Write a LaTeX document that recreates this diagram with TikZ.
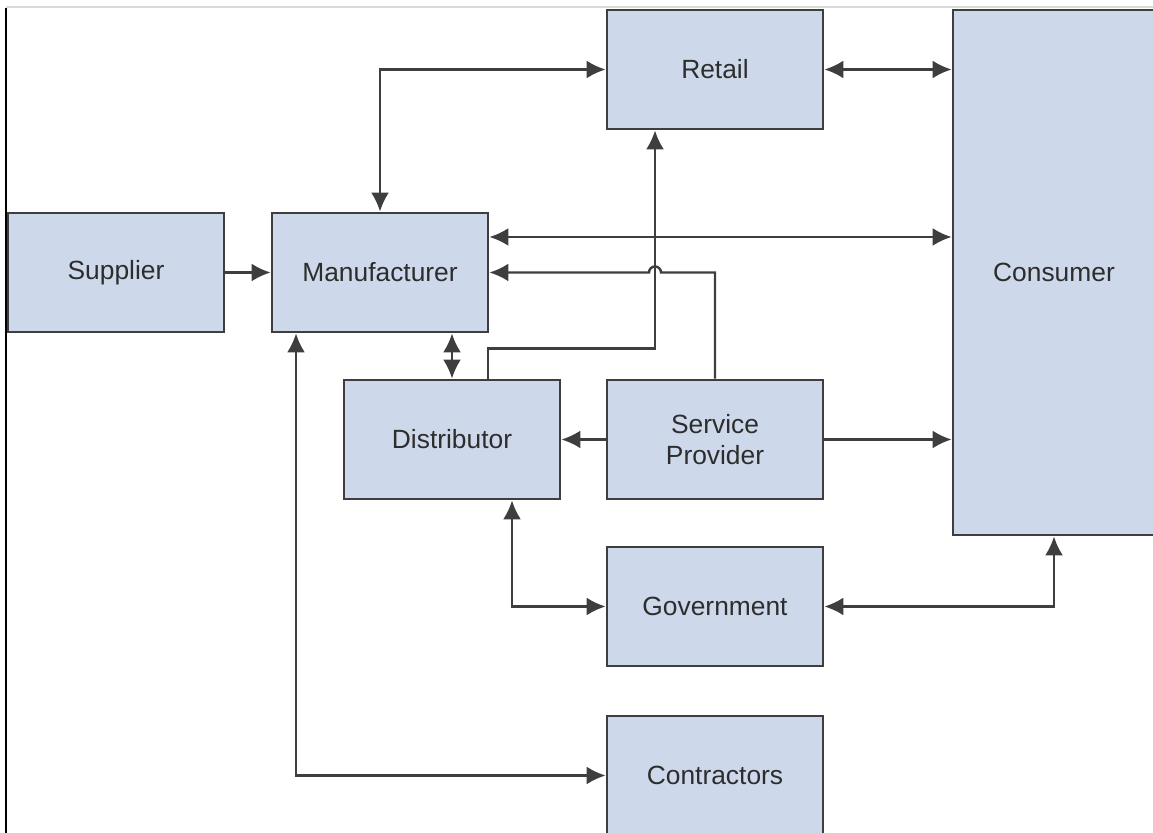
\documentclass[tikz,border=0pt]{standalone}
\usepackage{fontspec}
\setmainfont{Liberation Sans}
\usepackage{tikz}
\usetikzlibrary{calc,arrows.meta}
\definecolor{boxfill}{RGB}{205,217,235}
\definecolor{linegray}{RGB}{62,62,62}
\definecolor{textgray}{RGB}{45,45,45}

\begin{document}
\begin{tikzpicture}[
    box/.style={draw=linegray, line width=1.6pt, fill=boxfill, minimum width=4.32cm, minimum height=2.38cm,
        inner sep=0pt, text=textgray, align=center, font=\fontsize{15}{17.6}\selectfont},
    link/.style={draw=linegray, line width=1.4pt, -{Latex[length=3.8mm,width=3.6mm]}},
    twoway/.style={link, {Latex[length=3.8mm,width=3.6mm]}-{Latex[length=3.8mm,width=3.6mm]}}
]
    \useasboundingbox (0,0) rectangle (23.06,16.66);
    \draw[gray!30, line width=1.1pt] (0.12,16.52) -- (23.06,16.52);
    \draw[black, line width=0.6pt] (0.12,16.5) -- (0.12,0);

    \node[box] (Supplier) at (2.32,11.21) {Supplier};
    \node[box] (Manufacturer) at (7.60,11.21) {Manufacturer};
    \node[box] (Retail) at (14.30,15.27) {Retail};
    \node[box] (Distributor) at (9.04,7.87) {Distributor};
    \node[box] (ServiceProvider) at (14.30,7.87) {Service\\Provider};
    \node[box] (Government) at (14.30,4.53) {Government};
    \node[box] (Contractors) at (14.30,1.15) {Contractors};
    \node[box, minimum width=4.04cm, minimum height=10.5cm] (Consumer) at (21.08,11.21) {Consumer};

    \coordinate (ManHigh) at ($(Manufacturer.east)+(0,0.71)$);
    \coordinate (ManLow) at ($(Manufacturer.south)+(-1.68,0)$);
    \coordinate (DistOut) at ($(Distributor.north)+(0.72,0)$);
    \coordinate (DistLow) at ($(Distributor.south)+(1.2,0)$);
    \coordinate (RetIn) at ($(Retail.south)+(-1.2,0)$);
    \coordinate (HopR) at ($(RetIn |- Manufacturer.east)+(0.12,0)$);

    \draw[link] (Supplier) -- (Manufacturer);
    \draw[twoway] (Manufacturer.north) |- (Retail.west);
    \draw[twoway] (Retail.east) -- (Retail.east -| Consumer.west);
    \draw[twoway] (ManHigh) -- (ManHigh -| Consumer.west);
    \draw[link] (DistOut) -- ++(0,0.6) -| (RetIn);
    \draw[link] (ServiceProvider.north) |- (HopR) arc[start angle=0, end angle=180, radius=0.12cm] -- (Manufacturer.east);
    \draw[twoway] (Distributor.north) -- (Distributor.north |- Manufacturer.south);
    \draw[link] (ServiceProvider) -- (Distributor);
    \draw[link] (ServiceProvider.east) -- (ServiceProvider.east -| Consumer.west);
    \draw[twoway] (DistLow) |- (Government.west);
    \draw[twoway] (Government.east) -| (Consumer.south);
    \draw[twoway] (ManLow) |- (Contractors.west);
\end{tikzpicture}
\end{document}
